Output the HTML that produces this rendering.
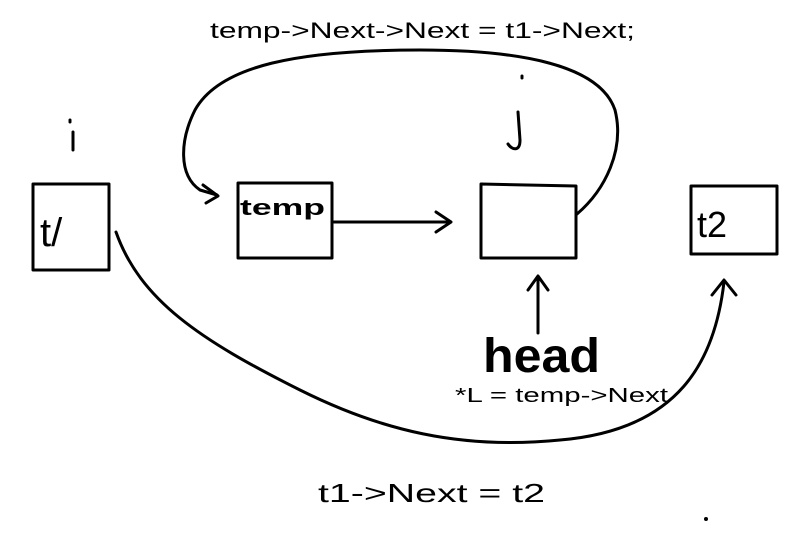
<!DOCTYPE html>
<html><head><style>
html,body{margin:0;padding:0;background:#fff;}
svg{display:block;}
text{font-family:"Liberation Sans",sans-serif;fill:#000;}
</style></head><body>
<svg width="806" height="538" viewBox="0 0 806 538" xmlns="http://www.w3.org/2000/svg">
<g fill="none" stroke="#000" stroke-width="3" stroke-linecap="round" stroke-linejoin="round">
<rect x="33" y="184" width="76" height="86"/>
<rect x="238" y="183" width="94" height="75"/>
<path d="M481 184 L481 258 L576 258 L576 186 L481 184"/>
<rect x="691" y="186" width="86" height="68"/>
<path d="M334 222 L450 222"/>
<path d="M436 212 L451 222 L436 232"/>
<path d="M577 214 C605 190 625 150 615 110 C600 65 520 50 420 50 C300 50 220 65 195 110 C180 140 178 175 200 190 L217 195"/>
<path d="M203 185 L218 196 L206 203"/>
<path d="M538 333 L538 278"/>
<path d="M528 290 L538 276 L548 290"/>
<path d="M116 232 C140 300 200 340 300 390 C380 430 460 450 560 440 C680 430 715 360 724 282"/>
<path d="M712 295 L724 280 L736 295"/>
<path d="M70 120 L70 122 M73 132 L73 150"/>
<path d="M522 76 L522 78 M518 112 L520 140 C520 152 512 150 508 144"/>
</g>
<text x="210" y="38" font-size="22" textLength="425" lengthAdjust="spacingAndGlyphs">temp-&gt;Next-&gt;Next = t1-&gt;Next;</text>
<text x="40" y="246" font-size="40">t/</text>
<text x="240" y="215" font-size="22" font-weight="bold" textLength="85" lengthAdjust="spacingAndGlyphs">temp</text>
<text x="697" y="237" font-size="36">t2</text>
<text x="483" y="372" font-size="48" font-weight="bold" textLength="117" lengthAdjust="spacingAndGlyphs">head</text>
<text x="455" y="402" font-size="20" textLength="213" lengthAdjust="spacingAndGlyphs">*L = temp-&gt;Next</text>
<text x="318" y="502" font-size="26" textLength="227" lengthAdjust="spacingAndGlyphs">t1-&gt;Next = t2</text>
<circle cx="706" cy="519" r="2" fill="#000"/>
</svg>
</body></html>
